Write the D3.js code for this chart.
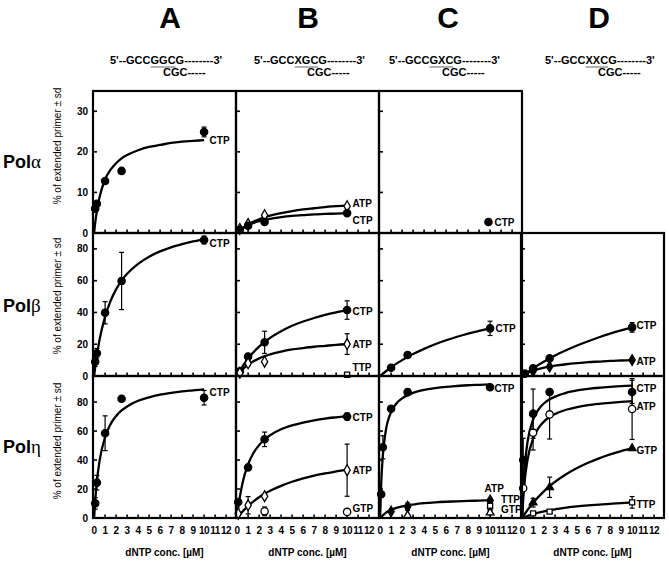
<!DOCTYPE html>
<html><head><meta charset="utf-8">
<script src="https://cdn.jsdelivr.net/npm/d3@7"></script>
<style>body{margin:0;background:#fff} svg text{font-family:"Liberation Sans",Arial,sans-serif}</style>
</head><body><svg id="c" width="669" height="562"></svg>
<script>
// ---------------- data ----------------
const columns = ["A","B","C","D"];
const seqPre  = ["5'--GCC","5'--GCC","5'--GCC","5'--GCC"];
const seqMark = ["GGC","XGC","GXC","XXC"];
const seqPost = ["G--------3'","G--------3'","G--------3'","G--------3'"];
const seqBottom = "CGC-----";
const rowNames = ["Pol","Pol","Pol"];
const rowGreek = ["α","β","η"];
const yMaxByRow = [35, 90, 98];
const yTicksByRow = [[0,10,20,30],[0,20,40,60,80],[0,20,40,60,80]];
const xTicks = [0,1,2,3,4,5,6,7,8,9,10,11,12];
const yTitle = "% of extended primer ± sd";
const xTitle = "dNTP conc. [µM]";
// panels present: [row, col]
const panels = [[0,0],[0,1],[0,2],[1,0],[1,1],[1,2],[1,3],[2,0],[2,1],[2,2],[2,3]];

// Pol alpha
const A1_CTP_pts = [[0.1,6.0],[0.25,7.2],[1,12.8],[2.5,15.3],[10,24.9,1.2]];
const A1_CTP_fit = [[0,0],[0.1,2.5],[0.25,5.4],[0.5,8.9],[1,13.2],[1.5,15.6],[2,17.2],[2.5,18.4],[3,19.2],[4,20.4],[5,21.2],[6,21.7],[7,22.2],[8,22.5],[9,22.7],[10,22.9]];
const B1_ATP_pts = [[0.25,1.0],[1,2.2],[2.5,4.4],[10,6.6]];
const B1_ATP_fit = [[0,0],[0.25,0.7],[0.5,1.2],[1,2.1],[2,3.4],[2.5,3.9],[3,4.3],[4,4.9],[5,5.4],[6,5.8],[7,6.1],[8,6.4],[9,6.6],[10,6.8]];
const B1_CTP_pts = [[0.25,0.8],[1,1.8],[2.5,2.7],[10,4.9]];
const B1_CTP_fit = [[0,0],[0.25,0.6],[0.5,1.1],[1,1.9],[2,2.9],[2.5,3.2],[3,3.5],[4,3.9],[5,4.2],[6,4.4],[7,4.6],[8,4.7],[9,4.8],[10,4.9]];
const C1_CTP_pts = [[9.85,2.7]];
// Pol beta
const A2_CTP_pts = [[0.1,9,3],[0.25,14.3,3],[1,39.8,7],[2.5,59.8,18],[10,85.6,2.5]];
const A2_CTP_fit = [[0,0],[0.1,5.6],[0.25,13],[0.5,23],[1,37.4],[1.5,47.3],[2,54.5],[2.5,60],[3,64.3],[4,70.6],[5,75.1],[6,78.4],[7,81],[8,83],[9,84.7],[10,86]];
const B2_CTP_pts = [[0.25,3],[1,12.2,2],[2.5,21.2,7],[10,41.5,5.8]];
const B2_CTP_fit = [[0,0],[0.5,6],[1,11],[2,18.5],[2.5,21.4],[3,24],[4,28.2],[5,31.6],[6,34.3],[7,36.5],[8,38.4],[9,40],[10,41.4]];
const B2_ATP_pts = [[0.25,2],[1,8,1.5],[2.5,9],[10,20.1,6.5]];
const B2_ATP_fit = [[0,0],[0.5,4.2],[1,7.1],[2,11.1],[2.5,12.5],[3,13.6],[4,15.4],[5,16.7],[6,17.6],[7,18.4],[8,19],[9,19.6],[10,20]];
const B2_TTP_pts = [[10,0.8]];
const C2_CTP_pts = [[1,5.2],[2.5,13.2,1.5],[10,30,4.5]];
const C2_CTP_fit = [[0,0],[1,5.5],[2,10],[2.5,12],[3,13.8],[4,17.1],[5,20],[6,22.5],[7,24.7],[8,26.7],[9,28.4],[10,30]];
const D2_CTP_pts = [[0.25,1.5],[1,4.8],[2.5,11.1],[10,30.6,3]];
const D2_CTP_fit = [[0,0],[1,4.8],[2,9.1],[2.5,11],[3,12.9],[4,16.2],[5,19.2],[6,21.9],[7,24.4],[8,26.7],[9,28.7],[10,30.6]];
const D2_ATP_pts = [[1,3.1],[2.5,5.9],[10,10]];
const D2_ATP_fit = [[0,0],[0.5,1.9],[1,3.25],[2,5.2],[2.5,5.9],[3,6.5],[4,7.4],[5,8.1],[6,8.7],[7,9.1],[8,9.5],[9,9.75],[10,10]];
// Pol eta
const A3_CTP_pts = [[0.1,10.1,4],[0.25,24.4,5],[1,58.5,12],[2.5,82.3],[10,83,5]];
const A3_CTP_fit = [[0,0],[0.1,11.9],[0.25,25],[0.5,39.6],[1,55.9],[1.5,64.8],[2,70.4],[2.5,74.2],[3,77],[4,80.9],[5,83.3],[6,85.1],[7,86.4],[8,87.4],[9,88.1],[10,88.8]];
const B3_CTP_pts = [[0.1,11],[1,34.9],[2.5,54.3,5],[10,70,2.5]];
const B3_CTP_fit = [[0,0],[0.1,6.5],[0.25,14.4],[0.5,24.4],[1,37.1],[1.5,45],[2,50.3],[2.5,54.2],[3,57.1],[4,61.2],[5,63.9],[6,65.9],[7,67.4],[8,68.6],[9,69.5],[10,70.3]];
const B3_ATP_pts = [[0.1,3],[1,8.8,6],[2.5,15],[10,33,18]];
const B3_ATP_fit = [[0,0],[0.5,4.5],[1,8.3],[2,14.3],[2.5,16.7],[3,18.75],[4,22.2],[5,25],[6,27.3],[7,29.2],[8,30.8],[9,32.1],[10,33.3]];
const B3_GTP_pts = [[2.5,4.6,3],[10,4.2]];
const C3_CTP_pts = [[0.1,16.4],[0.25,48.8,8],[1,75.4],[2.5,86.9],[10,90.2]];
const C3_CTP_fit = [[0,0],[0.1,23.8],[0.25,43.2],[0.5,59.4],[1,73.1],[1.5,79.2],[2,82.6],[2.5,84.8],[3,86.4],[4,88.4],[5,89.6],[6,90.5],[7,91.1],[8,91.6],[9,91.9],[10,92.2]];
const C3_TTP_pts = [[1,4.4],[2.5,7.8,2.5],[10,12,1.5]];
const C3_TTP_fit = [[0,0],[0.5,3.5],[1,5.6],[2,8],[2.5,8.75],[3,9.3],[4,10.2],[5,10.8],[6,11.2],[7,11.5],[8,11.8],[9,12],[10,12.2]];
const C3_GTP_pts = [[10,8.3,2.5]];
const C3_ATP_pts = [[2.5,1.8],[10,3.7,1.5]];
const D3_CTP_pts = [[0.1,40,15],[1,72,17],[2.5,87],[10,87,8]];
const D3_CTP_fit = [[0,0],[0.1,19],[0.25,36.5],[0.5,52.8],[1,67.9],[1.5,75],[2,79.2],[2.5,81.9],[3,83.8],[4,86.4],[5,88],[6,89.1],[7,89.9],[8,90.5],[9,91],[10,91.3]];
const D3_ATP_pts = [[0.1,20.5],[1,58.9,12],[2.5,71.5,17],[10,75.2,21]];
const D3_ATP_fit = [[0,0],[0.1,13.1],[0.25,26.6],[0.5,40.5],[1,54.8],[1.5,62.2],[2,66.7],[2.5,69.7],[3,71.8],[4,74.7],[5,76.6],[6,77.9],[7,78.8],[8,79.5],[9,80.1],[10,80.6]];
const D3_GTP_pts = [[1,10.6,3],[2.5,21.2,7],[10,48.1]];
const D3_GTP_fit = [[0,0],[0.5,5.6],[1,10.5],[2,18.6],[2.5,22],[3,25],[4,30.2],[5,34.5],[6,38.1],[7,41.2],[8,43.9],[9,46.2],[10,48.2]];
const D3_TTP_pts = [[1,3.2],[2.5,4.4],[10,10.8,4]];
const D3_TTP_fit = [[0,0],[1,2.7],[2,4.6],[2.5,5.3],[3,6],[4,7.1],[5,8],[6,8.7],[7,9.3],[8,9.8],[9,10.3],[10,10.7]];

// series: row, col, points, fit, marker
const series = [
  [0,0,A1_CTP_pts,A1_CTP_fit,"fc"],
  [0,1,B1_ATP_pts,B1_ATP_fit,"od"],
  [0,1,B1_CTP_pts,B1_CTP_fit,"fc"],
  [0,2,C1_CTP_pts,null,"fc"],
  [1,0,A2_CTP_pts,A2_CTP_fit,"fc"],
  [1,1,B2_CTP_pts,B2_CTP_fit,"fc"],
  [1,1,B2_ATP_pts,B2_ATP_fit,"od"],
  [1,1,B2_TTP_pts,null,"os"],
  [1,2,C2_CTP_pts,C2_CTP_fit,"fc"],
  [1,3,D2_CTP_pts,D2_CTP_fit,"fc"],
  [1,3,D2_ATP_pts,D2_ATP_fit,"fd"],
  [2,0,A3_CTP_pts,A3_CTP_fit,"fc"],
  [2,1,B3_CTP_pts,B3_CTP_fit,"fc"],
  [2,1,B3_ATP_pts,B3_ATP_fit,"od"],
  [2,1,B3_GTP_pts,null,"oc"],
  [2,2,C3_CTP_pts,C3_CTP_fit,"fc"],
  [2,2,C3_TTP_pts,C3_TTP_fit,"fd"],
  [2,2,C3_GTP_pts,null,"os"],
  [2,2,C3_ATP_pts,null,"ot"],
  [2,3,D3_CTP_pts,D3_CTP_fit,"fc"],
  [2,3,D3_ATP_pts,D3_ATP_fit,"oc"],
  [2,3,D3_GTP_pts,D3_GTP_fit,"ft"],
  [2,3,D3_TTP_pts,D3_TTP_fit,"os"]
];
// series labels: row, col, text, x, y (data units)
const seriesLabels = [
  [0,0,"CTP",10.5,22.9],
  [0,1,"ATP",10.5,7.3],[0,1,"CTP",10.5,3.2],
  [0,2,"CTP",10.4,2.6],
  [1,0,"CTP",10.5,83.5],
  [1,1,"CTP",10.5,40.9],[1,1,"ATP",10.5,19.9],[1,1,"TTP",10.5,5.2],
  [1,2,"CTP",10.5,29.6],
  [1,3,"CTP",10.4,31.7],[1,3,"ATP",10.4,9.4],
  [2,0,"CTP",10.5,86.5],
  [2,1,"CTP",10.5,69.5],[2,1,"ATP",10.5,32.6],[2,1,"GTP",10.5,6.7],
  [2,2,"CTP",10.4,89.5],[2,2,"ATP",9.5,20.5],[2,2,"TTP",11,13.1],[2,2,"GTP",11,6],
  [2,3,"CTP",10.4,89.5],[2,3,"ATP",10.4,76.8],[2,3,"GTP",10.4,46.9],[2,3,"TTP",10.4,9]
];

// ---------------- layout ----------------
const W = 669, H = 562;
const colLeft = [93, 236, 379, 521];
const pw = 143;
const rowTop = [91, 233, 376];
const ph = [142, 143, 142];
const svg = d3.select("#c");

function xs(c){ return d3.scaleLinear().domain([-0.1,12.9]).range([colLeft[c], colLeft[c]+pw]); }
function ys(r){ return d3.scaleLinear().domain([0,yMaxByRow[r]]).range([rowTop[r]+ph[r], rowTop[r]]); }

// headers
const headerX = [170, 308, 448, 599];
const seqX = [110, 254, 389, 545];
columns.forEach((c,i)=>{
  svg.append("text").attr("x",headerX[i]).attr("y",28).attr("text-anchor","middle")
    .attr("font-size",30).attr("font-weight","bold").text(c);
  const t = svg.append("text").attr("x",seqX[i]).attr("y",64).attr("font-size",11).attr("font-weight","bold");
  const a = t.append("tspan").text(seqPre[i]);
  const m = t.append("tspan").text(seqMark[i]);
  t.append("tspan").text(seqPost[i]);
  const preW = a.node().getComputedTextLength();
  const mW = m.node().getComputedTextLength();
  svg.append("line").attr("x1",seqX[i]+preW).attr("x2",seqX[i]+preW+mW).attr("y1",67).attr("y2",67)
    .attr("stroke","#888").attr("stroke-width",1.3);
  svg.append("text").attr("x",seqX[i]+53).attr("y",76).attr("font-size",11).attr("font-weight","bold").text(seqBottom);
});

// row labels
const rowLabelY = [168, 312, 453];
const yTitleY = [146, 296, 441];
rowNames.forEach((n,r)=>{
  const t = svg.append("text").attr("x",3).attr("y",rowLabelY[r]).attr("font-size",18);
  t.append("tspan").attr("font-weight","bold").text(n);
  t.append("tspan").attr("font-family","'Liberation Serif','DejaVu Serif',serif").attr("font-size",19).text(rowGreek[r]);
  svg.append("text").attr("transform",`translate(61,${yTitleY[r]}) rotate(-90)`).attr("text-anchor","middle")
    .attr("font-size",10).text(yTitle);
  const y = ys(r);
  yTicksByRow[r].forEach(v=>{
    svg.append("text").attr("x",88).attr("y",y(v)+3.5).attr("text-anchor","end")
      .attr("font-size",10).attr("font-weight","bold").text(v);
  });
});

const line = d3.line().curve(d3.curveMonotoneX);

function marker(g, type, x, y){
  const filled = type[0]==="f";
  let sym, size;
  switch(type[1]){
    case "c": sym=d3.symbolCircle; size=42; break;
    case "d": sym=d3.symbolDiamond; size=34; break;
    case "s": sym=d3.symbolSquare; size=26; break;
    case "t": sym=d3.symbolTriangle; size=26; break;
  }
  g.append("path").attr("d",d3.symbol(sym,size)()).attr("transform",`translate(${x},${y})`)
    .attr("fill",filled?"#000":"#fff").attr("stroke","#000").attr("stroke-width",1.3);
}

panels.forEach(([r,c])=>{
  const x = xs(c), y = ys(r);
  const g = svg.append("g");
  const x0 = colLeft[c], y0 = rowTop[r], yb = rowTop[r]+ph[r];
  // ticks
  xTicks.forEach(v=>{
    if(v===0) return;
    g.append("line").attr("x1",x(v)).attr("x2",x(v)).attr("y1",yb).attr("y2",yb-3.5)
      .attr("stroke","#000").attr("stroke-width",1.6);
  });
  yTicksByRow[r].forEach(v=>{
    if(v===0) return;
    g.append("line").attr("x1",x0).attr("x2",x0+4).attr("y1",y(v)).attr("y2",y(v))
      .attr("stroke","#000").attr("stroke-width",1.6);
  });
  // x tick labels on the bottom row
  if(r===2){
    xTicks.forEach(v=>{
      svg.append("text").attr("x",x(v)).attr("y",534).attr("text-anchor","middle")
        .attr("font-size",10).attr("font-weight","bold").attr("letter-spacing","-0.4").text(v);
    });
    svg.append("text").attr("x",x0+pw/2).attr("y",556).attr("text-anchor","middle")
      .attr("font-size",10).attr("font-weight","bold").text(xTitle);
  }
});

// curves, error bars, markers
series.forEach(([r,c,pts,fit,mk])=>{
  const x = xs(c), y = ys(r);
  const g = svg.append("g");
  if(fit){
    g.append("path").attr("d",line(fit.map(d=>[x(d[0]),y(d[1])]))).attr("fill","none")
      .attr("stroke","#000").attr("stroke-width",2.3);
  }
  pts.forEach(p=>{
    if(p[2]){
      const px = x(p[0]);
      g.append("line").attr("x1",px).attr("x2",px).attr("y1",y(p[1]-p[2])).attr("y2",y(p[1]+p[2])).attr("stroke","#000").attr("stroke-width",1.2);
      [p[1]-p[2],p[1]+p[2]].forEach(v=>g.append("line").attr("x1",px-2.5).attr("x2",px+2.5).attr("y1",y(v)).attr("y2",y(v)).attr("stroke","#000").attr("stroke-width",1.2));
    }
  });
  pts.forEach(p=>marker(g,mk,x(p[0]),y(p[1])));
});

seriesLabels.forEach(([r,c,t,vx,vy])=>{
  const x = xs(c), y = ys(r);
  svg.append("text").attr("x",x(vx)).attr("y",y(vy)+3.5).attr("font-size",10).attr("font-weight","bold").text(t);
});

// frames
panels.forEach(([r,c])=>{
  svg.append("rect").attr("x",colLeft[c]).attr("y",rowTop[r]).attr("width",pw).attr("height",ph[r])
    .attr("fill","none").attr("stroke","#000").attr("stroke-width",2.2);
});
</script></body></html>
